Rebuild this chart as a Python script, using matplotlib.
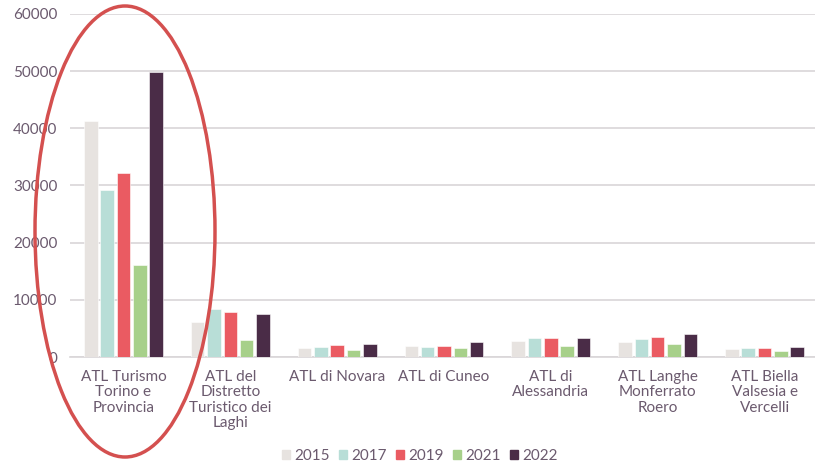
import numpy as np
import matplotlib.pyplot as plt
from matplotlib.patches import Ellipse, Patch

categories = ["ATL Turismo\nTorino e\nProvincia",
              "ATL del\nDistretto\nTuristico dei\nLaghi",
              "ATL di Novara",
              "ATL di Cuneo",
              "ATL di\nAlessandria",
              "ATL Langhe\nMonferrato\nRoero",
              "ATL Biella\nValsesia e\nVercelli"]
years = ["2015", "2017", "2019", "2021", "2022"]
v2015 = [41300, 6100, 1500, 1900, 2800, 2700, 1400]
v2017 = [29200, 8400, 1700, 1700, 3400, 3200, 1500]
v2019 = [32200, 7900, 2100, 2000, 3300, 3500, 1500]
v2021 = [16100, 2900, 1300, 1500, 1900, 2200, 1000]
v2022 = [49900, 7600, 2200, 2600, 3400, 4100, 1700]
colors = ["#E7E3E0", "#B8DED7", "#EA5B62", "#A7D08A", "#4A2C47"]

text_color = "#6B5A6E"
plt.rcParams['font.family'] = ['Lato', 'DejaVu Sans']

fig = plt.figure(figsize=(8.15, 4.65), dpi=100)
ax = fig.add_axes([70 / 815, 108 / 465, 748 / 815, 343 / 465])

series = [v2015, v2017, v2019, v2021, v2022]
x = np.arange(len(categories))
step = 0.153
width = 0.127
for i, (vals, c, y) in enumerate(zip(series, colors, years)):
    ax.bar(x + (i - 2) * step, vals, width, color=c, label=y,
           edgecolor="white", linewidth=0.4, zorder=3)

ax.set_xlim(-0.5, len(categories) - 0.5)
ax.set_ylim(0, 60000)
ax.set_yticks(np.arange(0, 60001, 10000))
ax.grid(axis="y", color="#D9D6D8", linewidth=1.2, zorder=0)
for s in ["top", "right", "left"]:
    ax.spines[s].set_visible(False)
ax.spines["bottom"].set_color("#D9D6D8")
ax.spines["bottom"].set_linewidth(1.2)
ax.set_xticks(x)
ax.set_xticklabels(categories, fontsize=11, color=text_color, linespacing=1.15, va="top")
ax.tick_params(axis="x", length=0, pad=9)
ax.tick_params(axis="y", length=0, pad=9, labelsize=11, labelcolor=text_color)

handles = [Patch(color=c, label=y) for c, y in zip(colors, years)]
fig.legend(handles=handles, loc="center", bbox_to_anchor=(420 / 815, 1 - 456 / 465),
           ncol=5, frameon=False, fontsize=11, labelcolor=text_color,
           handlelength=0.5, handleheight=0.5, handletextpad=0.3, columnspacing=0.6)

# red highlight around the first group
ell = Ellipse((125 / 815, 1 - 231.5 / 465), 180 / 815, 451 / 465,
              transform=fig.transFigure, fill=False, edgecolor="#D4504F",
              linewidth=2.5, clip_on=False, zorder=5)
fig.patches.append(ell)

fig.savefig("out.png", dpi=100)
